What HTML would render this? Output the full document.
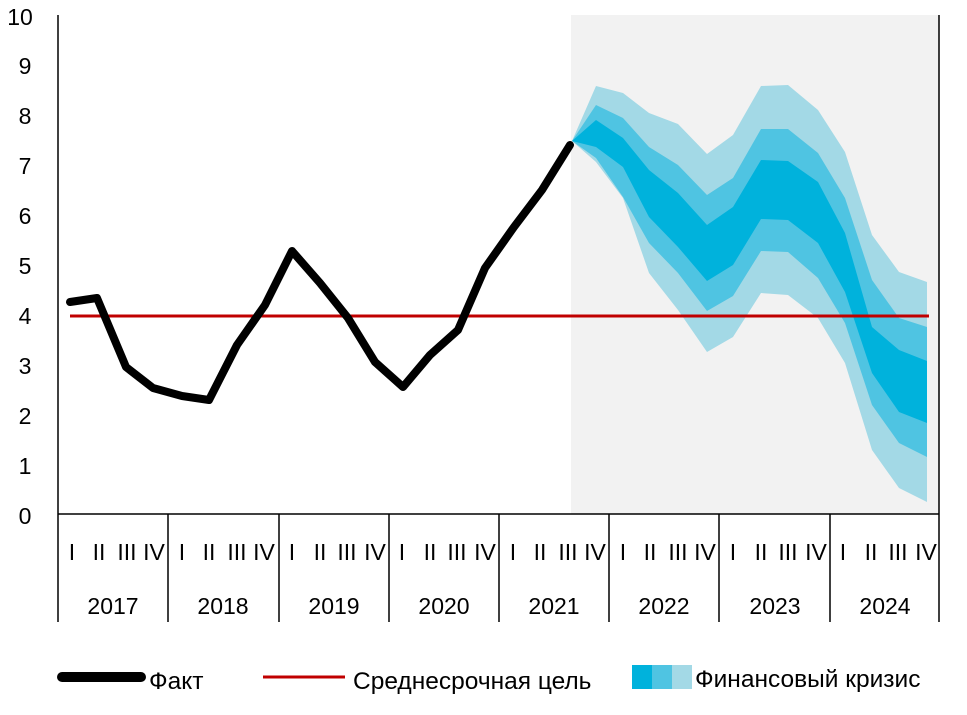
<!DOCTYPE html>
<html><head><meta charset="utf-8"><style>
body{margin:0;background:#fff;}
svg{display:block;font-family:"Liberation Sans",sans-serif;}
</style></head><body>
<svg width="967" height="715" viewBox="0 0 967 715">
<rect x="571" y="15" width="368" height="499" fill="#f2f2f2"/>
<polygon fill="#a3d9e6" points="572,141 596,86 623,93 649,113 678,124 707,154 733,135 761,86 788,85 818,110 845,152 872,235 899,272 927,282 927,502 899,488 872,450 845,363 818,318 788,295 761,293 733,337 707,352 678,310 649,273 623,198 596,162"/>
<polygon fill="#4fc4e2" points="572,141 596,105 623,118 649,147 678,165 707,195 733,178 761,129 788,129 818,153 845,198 872,280 899,318 927,327 927,457 899,443 872,405 845,323 818,278 788,252 761,251 733,296 707,311 678,273 649,243 623,197 596,158"/>
<polygon fill="#00b2dc" points="572,141 596,120 623,138 649,170 678,193 707,225 733,207 761,160 788,161 818,182 845,233 872,327 899,350 927,361 927,423 899,412 872,373 845,292 818,243 788,220 761,219 733,265 707,281 678,247 649,217 623,167 596,147"/>
<line x1="70" y1="316" x2="929" y2="316" stroke="#c00000" stroke-width="3"/>
<polyline fill="none" stroke="#000" stroke-width="8" stroke-linejoin="round" stroke-linecap="round" points="70,302 97,298 126,367 153,388 182,396 209,400 237,345 265,305 292,251 320,283 348,318 375,362 403,387 430,355 458,330 485,268 514,227 542,190 570,145"/>
<g stroke="#000" stroke-width="1.5">
<line x1="58" y1="15" x2="58" y2="622"/>
<line x1="939" y1="15" x2="939" y2="622"/>
<line x1="58" y1="514" x2="939" y2="514"/>
<line x1="168" y1="514" x2="168" y2="622"/>
<line x1="279" y1="514" x2="279" y2="622"/>
<line x1="389" y1="514" x2="389" y2="622"/>
<line x1="499" y1="514" x2="499" y2="622"/>
<line x1="609" y1="514" x2="609" y2="622"/>
<line x1="719" y1="514" x2="719" y2="622"/>
<line x1="830" y1="514" x2="830" y2="622"/>
</g>
<g font-size="23" fill="#000" text-anchor="middle">
<text x="25" y="524">0</text><text x="25" y="474">1</text><text x="25" y="424">2</text><text x="25" y="374">3</text><text x="25" y="324">4</text><text x="25" y="274">5</text><text x="25" y="224">6</text><text x="25" y="174">7</text><text x="25" y="124">8</text><text x="25" y="74">9</text><text x="20" y="25">10</text>
</g>
<g font-size="23" fill="#000" text-anchor="middle">
<text x="113" y="614">2017</text><text x="223" y="614">2018</text><text x="334" y="614">2019</text><text x="444" y="614">2020</text><text x="554" y="614">2021</text><text x="664" y="614">2022</text><text x="775" y="614">2023</text><text x="885" y="614">2024</text>
</g>
<g font-size="23" fill="#000" text-anchor="middle">
<text x="72" y="560">I</text><text x="99" y="560">II</text><text x="127" y="560">III</text><text x="154" y="560">IV</text>
<text x="182" y="560">I</text><text x="209" y="560">II</text><text x="237" y="560">III</text><text x="264" y="560">IV</text>
<text x="292" y="560">I</text><text x="320" y="560">II</text><text x="347" y="560">III</text><text x="375" y="560">IV</text>
<text x="402" y="560">I</text><text x="430" y="560">II</text><text x="457" y="560">III</text><text x="485" y="560">IV</text>
<text x="513" y="560">I</text><text x="540" y="560">II</text><text x="568" y="560">III</text><text x="595" y="560">IV</text>
<text x="623" y="560">I</text><text x="650" y="560">II</text><text x="678" y="560">III</text><text x="705" y="560">IV</text>
<text x="733" y="560">I</text><text x="761" y="560">II</text><text x="788" y="560">III</text><text x="816" y="560">IV</text>
<text x="843" y="560">I</text><text x="871" y="560">II</text><text x="898" y="560">III</text><text x="926" y="560">IV</text>
</g>
<line x1="62" y1="677" x2="141" y2="677" stroke="#000" stroke-width="10" stroke-linecap="round"/>
<text x="149" y="689" font-size="24.5">Факт</text>
<line x1="263" y1="677" x2="345" y2="677" stroke="#c00000" stroke-width="3"/>
<text x="353" y="689" font-size="24.5">Среднесрочная цель</text>
<rect x="632" y="665" width="20" height="24" fill="#00b2dc"/>
<rect x="652" y="665" width="20" height="24" fill="#4fc4e2"/>
<rect x="672" y="665" width="20" height="24" fill="#a3d9e6"/>
<text x="695" y="687" font-size="24.5">Финансовый кризис</text>
</svg>
</body></html>
